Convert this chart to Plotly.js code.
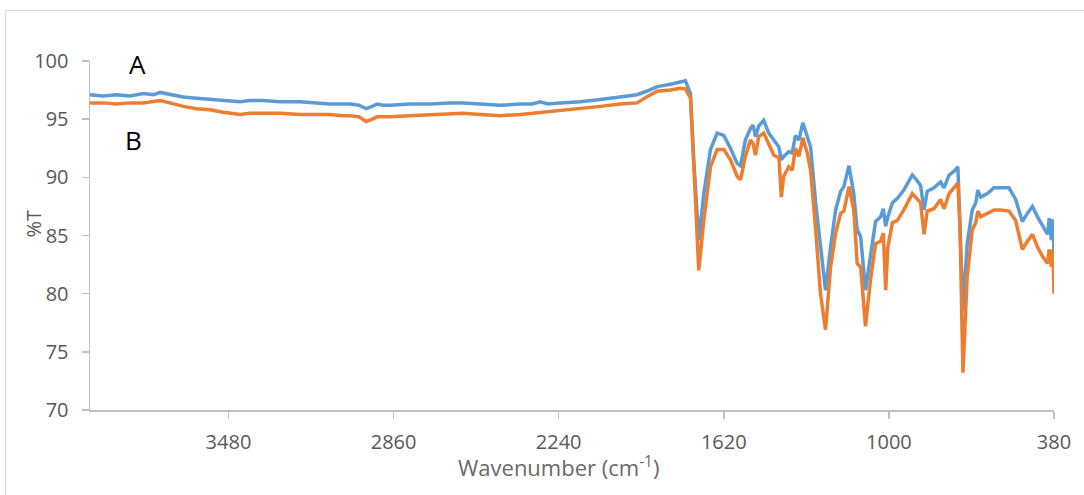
<!DOCTYPE html>
<html>
<head>
<meta charset="utf-8">
<script src="https://cdn.plot.ly/plotly-3.0.1.min.js"></script>
<style>
html,body{margin:0;padding:0;background:#fff;overflow:hidden;}
#wrap{position:relative;width:1084px;height:495px;}
#chart{position:absolute;left:0;top:0;width:1084px;height:495px;}
#frame{position:absolute;left:5px;top:10px;width:1100px;height:520px;border:1.5px solid #d9d9d9;pointer-events:none;}
</style>
</head>
<body>
<div id="wrap"><div id="chart"></div><div id="frame"></div></div>
<script>
// Wavenumber (cm-1)
const wavenumber = [4000,3950,3900,3850,3800,3760,3737,3700,3650,3600,3550,3500,3436,3400,3350,3286,3211,3150,3098,3050,3023,2990,2963,2940,2922,2900,2873,2800,2722,2650,2600,2534,2460,2384,2340,2309,2280,2234,2159,2083,2010,1946,1910,1870,1820,1783,1764,1745,1733,1714,1695,1670,1645,1620,1595,1570,1557,1539,1520,1510,1501,1489,1470,1451,1432,1413,1404,1395,1376,1363,1351,1338,1323,1307,1294,1275,1257,1238,1219,1200,1181,1169,1150,1132,1119,1106,1088,1069,1050,1031,1021,1012,1004,987,968,944,912,900,881,868,856,831,806,793,774,756,741,733,722,706,687,674,666,655,630,605,580,549,524,499,480,461,442,423,404,398,390,384,380];
// Series A (%T)
const seriesA = [97.1,97.0,97.1,97.0,97.2,97.1,97.3,97.1,96.9,96.8,96.7,96.6,96.5,96.6,96.6,96.5,96.5,96.4,96.3,96.3,96.3,96.2,95.9,96.1,96.3,96.2,96.2,96.3,96.3,96.4,96.4,96.3,96.2,96.3,96.3,96.5,96.3,96.4,96.5,96.7,96.9,97.1,97.4,97.8,98.0,98.2,98.3,97.2,91.5,84.6,88.6,92.4,93.8,93.6,92.5,91.2,91.0,93.2,94.2,94.5,93.5,94.4,94.9,93.8,93.2,92.6,91.5,91.8,92.2,92.1,93.6,93.2,94.7,93.6,92.6,87.8,84.0,80.3,84.0,87.2,88.8,89.2,91.0,88.6,85.5,84.9,80.3,83.5,86.2,86.6,87.3,85.8,86.6,87.8,88.2,88.9,90.2,89.9,89.3,87.2,88.8,89.1,89.6,89.1,90.2,90.5,90.9,85.8,78.5,84.3,87.2,87.8,88.9,88.3,88.6,89.1,89.1,89.1,88.1,86.2,86.9,87.5,86.6,85.8,85.1,86.5,84.6,86.4,83.5];
// Series B (%T)
const seriesB = [96.4,96.4,96.3,96.4,96.4,96.5,96.6,96.4,96.1,95.9,95.8,95.6,95.4,95.5,95.5,95.5,95.4,95.4,95.4,95.3,95.3,95.2,94.8,95.0,95.2,95.2,95.2,95.3,95.4,95.5,95.5,95.4,95.3,95.4,95.5,95.6,95.6,95.7,95.9,96.1,96.3,96.4,96.9,97.4,97.5,97.65,97.6,96.8,91.3,82.0,86.3,90.9,92.4,92.4,91.5,90.1,89.8,91.8,93.2,92.9,91.9,93.5,93.8,92.9,91.9,91.7,88.3,90.1,90.9,90.6,92.5,91.8,93.4,92.1,90.6,85.5,80.0,76.9,82.3,85.2,86.9,87.1,89.2,87.2,82.6,82.3,77.2,81.2,84.3,84.5,85.2,80.3,84.0,86.1,86.3,87.2,88.6,88.3,87.8,85.1,87.1,87.3,88.1,87.3,88.6,89.1,89.5,85.8,73.2,81.5,85.5,86.1,87.1,86.6,86.9,87.2,87.2,87.1,86.3,83.8,84.5,85.1,84.0,83.2,82.6,83.8,82.3,83.8,80.0];
const xTicks = [3480,2860,2240,1620,1000,380];
const yTicks = [70,75,80,85,90,95,100];
const seriesNames = ['A','B'];

const axisGray = '#bfbfbf';
const textGray = '#595959';
const fontFam = 'Open Sans, Noto Sans, sans-serif';

const traces = [
  {x: wavenumber, y: seriesA, name: seriesNames[0], type: 'scatter', mode: 'lines',
   line: {color: '#5B9BD5', width: 3.5}},
  {x: wavenumber, y: seriesB, name: seriesNames[1], type: 'scatter', mode: 'lines',
   line: {color: '#ED7D31', width: 3.5}}
];

const layout = {
  width: 1084, height: 495,
  margin: {l: 90, r: 30, t: 61, b: 85},
  paper_bgcolor: 'rgba(0,0,0,0)', plot_bgcolor: 'rgba(0,0,0,0)',
  showlegend: false,
  font: {family: fontFam, color: textGray},
  xaxis: {
    range: [4000, 380], tickvals: xTicks, ticktext: xTicks.map(String),
    showgrid: false, zeroline: false, showline: true, linecolor: axisGray, linewidth: 1.5,
    ticks: 'outside', ticklen: 7, tickcolor: axisGray, tickwidth: 1.5,
    tickfont: {size: 20, color: textGray, family: fontFam}, ticklabelstandoff: 6
  },
  yaxis: {
    range: [70, 100], tickvals: yTicks,
    showgrid: false, zeroline: false, showline: true, linecolor: axisGray, linewidth: 1.5,
    ticks: 'outside', ticklen: 7, tickcolor: axisGray, tickwidth: 1.5,
    tickfont: {size: 20, color: textGray, family: fontFam}, ticklabelstandoff: 9
  },
  annotations: [
    {text: 'A', xref: 'paper', yref: 'paper', x: 0.0488, y: 0.991, showarrow: false,
     xanchor: 'center', yanchor: 'middle', font: {size: 26, color: '#000', family: fontFam}},
    {text: 'B', xref: 'paper', yref: 'paper', x: 0.0456, y: 0.774, showarrow: false,
     xanchor: 'center', yanchor: 'middle', font: {size: 26, color: '#000', family: fontFam}},
    {text: 'Wavenumber (cm<sup>-1</sup>)', xref: 'paper', yref: 'paper', x: 0.486, y: -0.163,
     showarrow: false, xanchor: 'center', yanchor: 'middle', font: {size: 22, color: '#6a6a6a', family: fontFam}},
    {text: '%T', xref: 'paper', yref: 'paper', x: -0.059, y: 0.535, textangle: -90,
     showarrow: false, xanchor: 'center', yanchor: 'middle', font: {size: 20, color: textGray, family: fontFam}}
  ]
};

Plotly.newPlot('chart', traces, layout, {staticPlot: true, displayModeBar: false});
</script>
</body>
</html>
